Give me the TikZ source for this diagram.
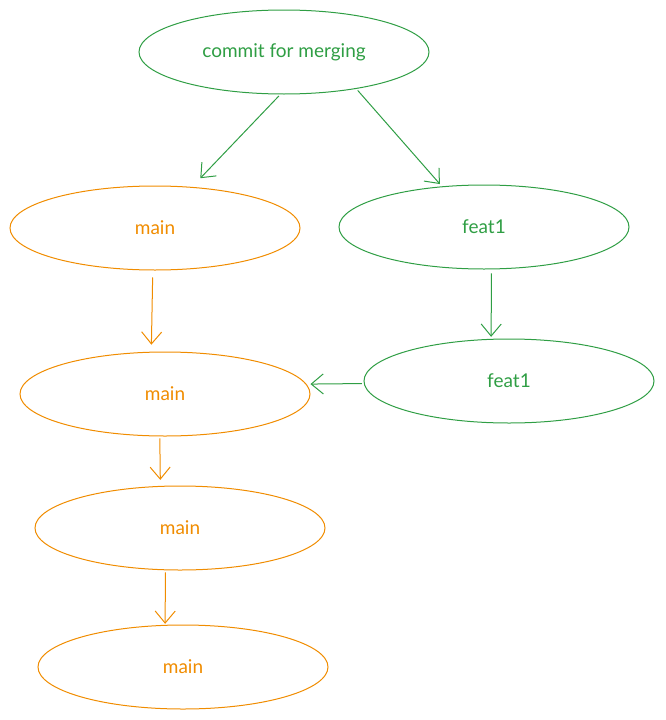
\documentclass[tikz,border=0pt]{standalone}
\usepackage{fontspec}
\setmainfont{Lato}
\usetikzlibrary{shapes.geometric,arrows.meta}
\definecolor{grn}{HTML}{2F9E44}
\definecolor{orng}{HTML}{F08C00}
\begin{document}
\begin{tikzpicture}[x=1pt,y=-1pt,>={Straight Barb[length=12pt,width=20pt]},line width=1pt,
  commitnode/.style={ellipse,draw,inner sep=0pt,minimum width=290pt,minimum height=84pt,font=\fontsize{19}{21}\selectfont},
  mainnode/.style={commitnode,draw=orng,text=orng},
  featnode/.style={commitnode,draw=grn,text=grn},
  link/.style={->,shorten <=2pt,shorten >=3pt}]
\useasboundingbox (0,0) rectangle (665,720);
\node[featnode](merge) at (284,52){commit for merging};
\node[mainnode](main1) at (155,228){main};
\node[featnode](feat1) at (484,227){feat1};
\node[featnode](feat2) at (509,381){feat1};
\node[mainnode](main2) at (165,394){main};
\node[mainnode](main3) at (180,528){main};
\node[mainnode](main4) at (183,667){main};
\draw[link,grn,shorten >=12pt](merge.-95)--(main1.48);
\draw[link,grn](merge.-27.5)--(feat1.136);
\draw[link,orng,shorten <=7pt,shorten >=7pt](main1.-93)--(main2.108.5);
\draw[link,grn,shorten <=4pt,shorten >=2pt](feat1.-80.5)--(feat2.113);
\draw[link,grn,shorten >=4pt](feat2.181.2)--(main2.4);
\draw[link,orng,shorten >=6pt](main2.-97)--(main3.115.7);
\draw[link,orng,shorten >=1pt](main3.-109.7)--(main4.113.3);
\end{tikzpicture}
\end{document}
